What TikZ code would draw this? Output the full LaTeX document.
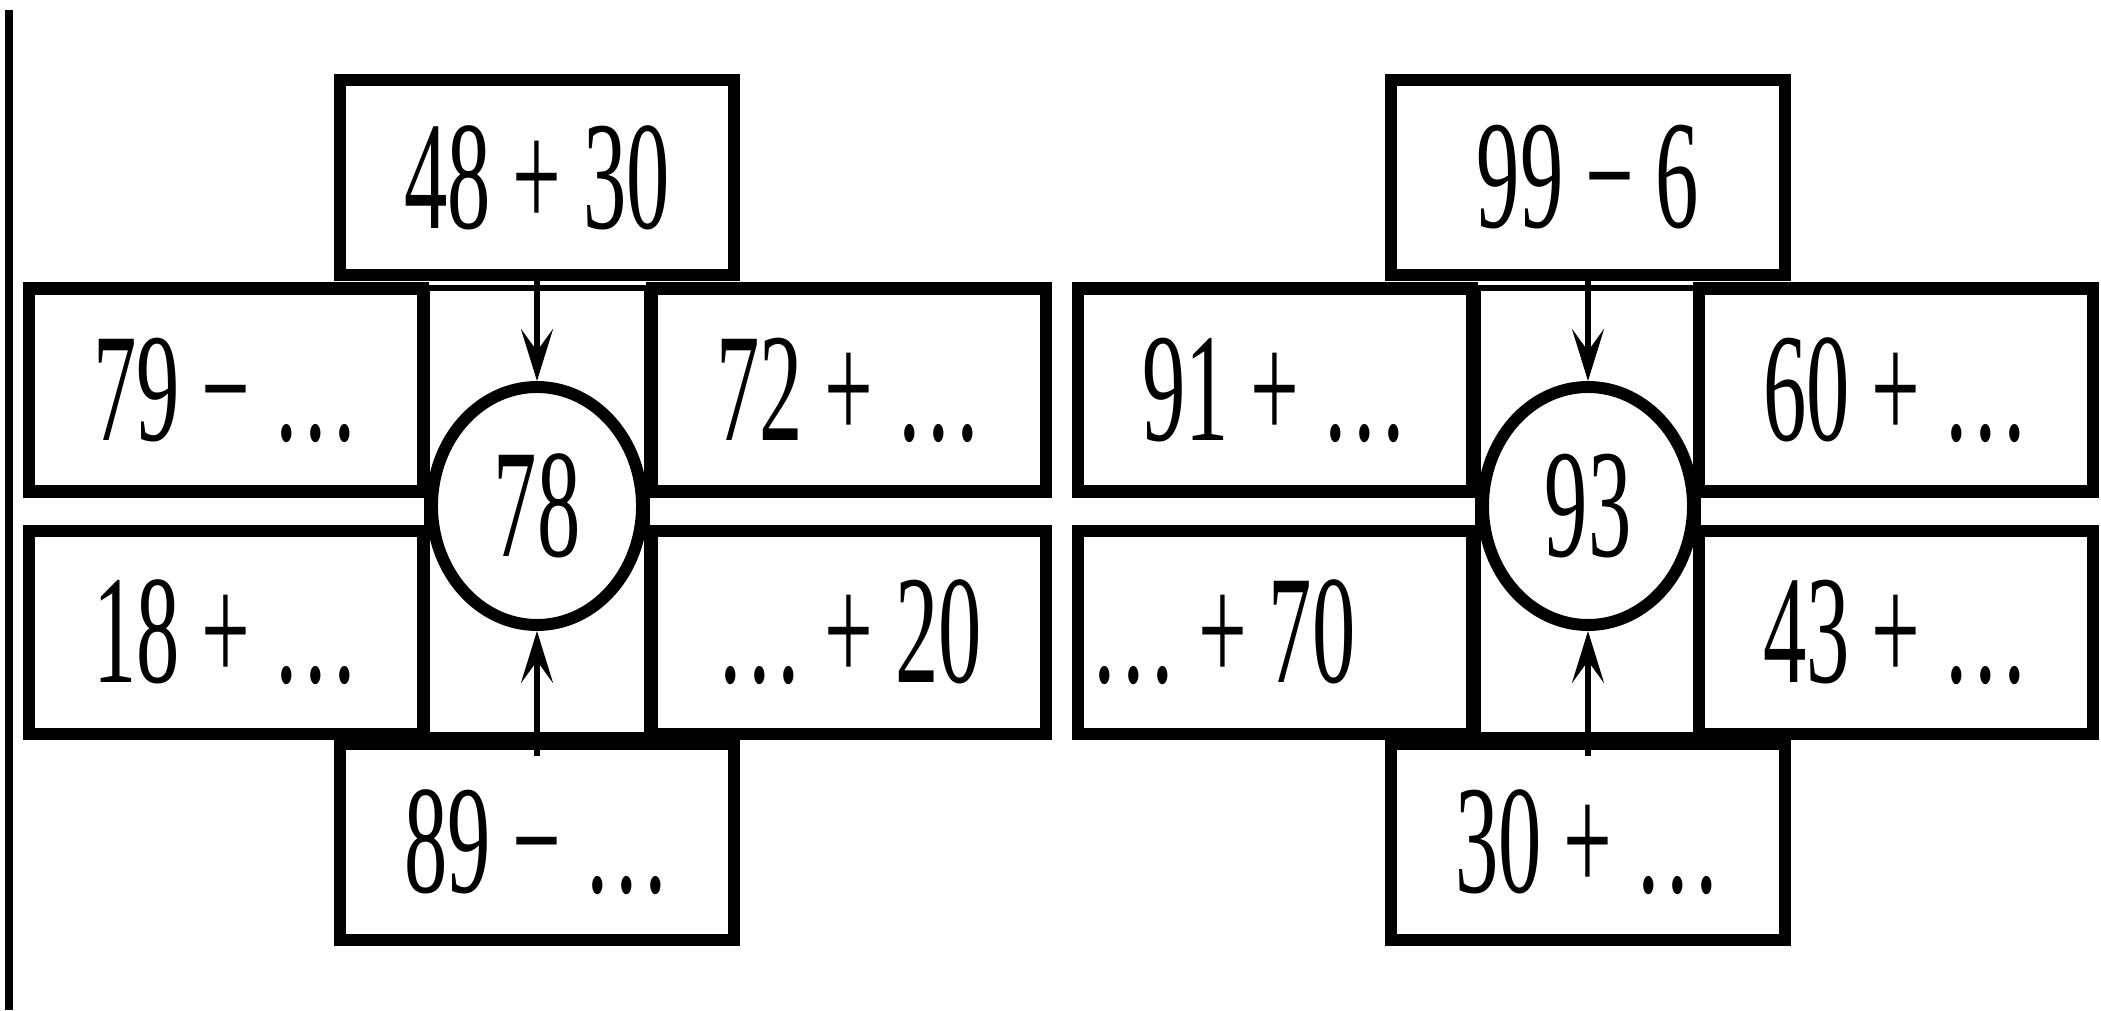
\documentclass[tikz,border=0pt]{standalone}
\usepackage{fontspec}
\usetikzlibrary{arrows.meta,shapes.geometric}
\newfontfamily\numfont[FakeStretch=0.56]{Liberation Serif}
\newcommand{\eqsize}{\numfont\fontsize{44}{48}\selectfont}

\begin{document}
\begin{tikzpicture}[
  box/.style={draw, line width=3.6pt, minimum width=3.94cm, minimum height=2.03cm, inner sep=0pt, font=\eqsize},
  mid/.style={draw, line width=1.8pt, minimum width=2.2cm, minimum height=4.47cm, inner sep=0pt},
  res/.style={draw, ellipse, line width=3.4pt, fill=white, minimum width=2.1cm, minimum height=2.38cm, inner sep=0pt, font=\eqsize},
  arr/.style={line width=1.7pt, -{Stealth[length=0.52cm, width=0.32cm, inset=0.22cm]}}]
  \useasboundingbox (0,0) rectangle (21.01,10.10);
  \draw[line width=2pt] (0.09,0) -- (0.09,10.0);
  % first wheel: 78
  \node[mid] (m1) at (5.37,4.985) {};
  \node[box, minimum height=1.95cm] (t1) at (5.37,8.325) {48 + 30};
  \node[box] (l1u) at (2.26,6.20) {79 − …};
  \node[box] (r1u) at (8.49,6.20) {72 + …};
  \node[box] (l1d) at (2.26,3.775) {18 + …};
  \node[box] (r1d) at (8.49,3.775) {… + 20};
  \node[box, minimum height=1.96cm] (b1) at (5.37,1.68) {89 − …};
  \node[res] (c1) at (5.37,5.04) {78};
  \coordinate (b1tail) at ([yshift=-0.18cm]b1.north);
  \draw[arr] (t1.south) -- (c1.north);
  \draw[arr] (b1tail) -- (c1.south);
  % second wheel: 93
  \node[mid] (m2) at (15.88,4.985) {};
  \node[box, minimum height=1.95cm] (t2) at (15.88,8.325) {99 − 6};
  \node[box] (l2u) at (12.75,6.20) {91 + …};
  \node[box] (r2u) at (18.96,6.20) {60 + …};
  \node[box] (l2d) at (12.75,3.775) {\makebox[3.7cm][l]{… + 70}};
  \node[box] (r2d) at (18.96,3.775) {43 + …};
  \node[box, minimum height=1.96cm] (b2) at (15.88,1.68) {30 + …};
  \node[res] (c2) at (15.88,5.04) {93};
  \coordinate (b2tail) at ([yshift=-0.18cm]b2.north);
  \draw[arr] (t2.south) -- (c2.north);
  \draw[arr] (b2tail) -- (c2.south);
\end{tikzpicture}
\end{document}
